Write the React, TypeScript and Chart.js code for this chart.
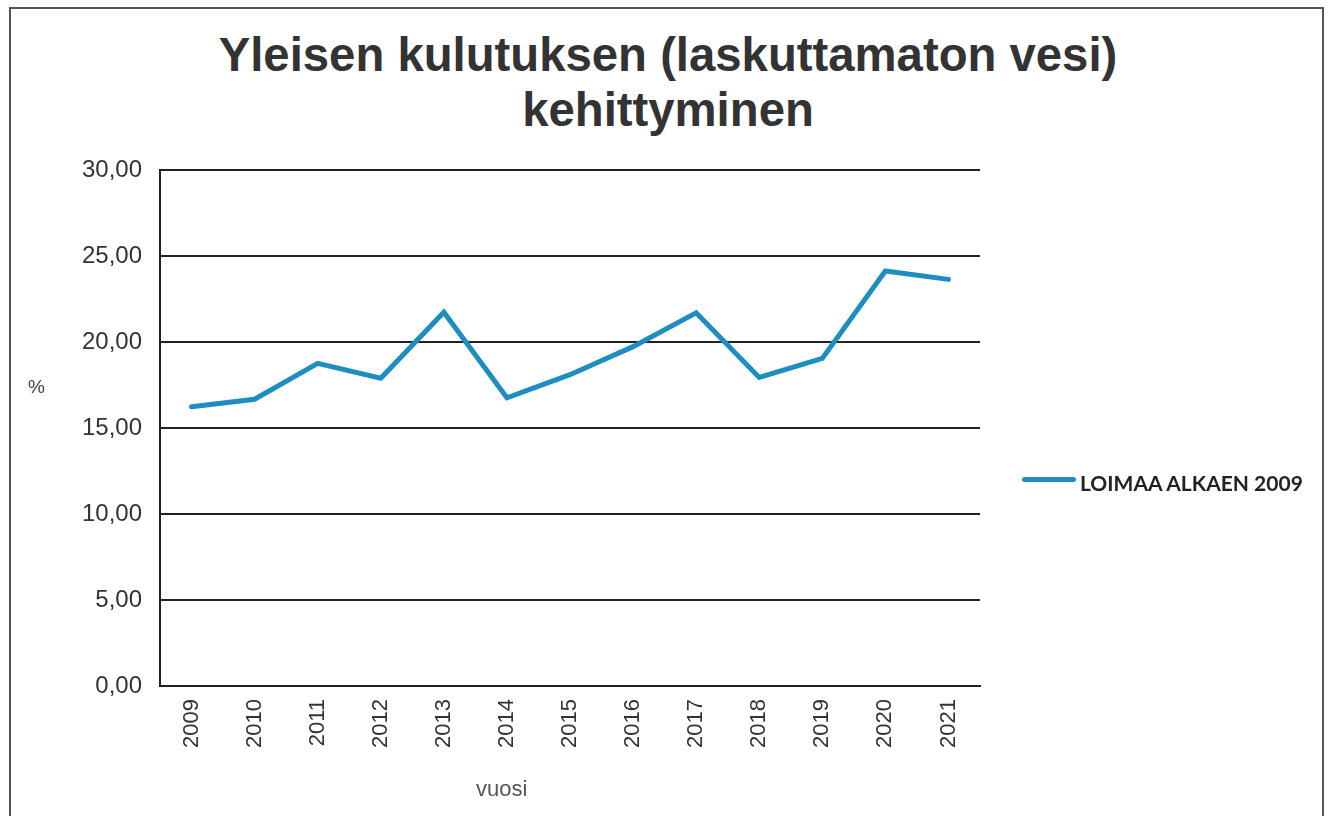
import React, { useEffect, useRef } from "react";
import { Chart, registerables } from "chart.js";

Chart.register(...registerables);

const titleLines = ["Yleisen kulutuksen (laskuttamaton vesi)", "kehittyminen"];
const years = ["2009", "2010", "2011", "2012", "2013", "2014", "2015", "2016", "2017", "2018", "2019", "2020", "2021"];
const seriesName = "LOIMAA ALKAEN 2009";
const values = [16.24, 16.67, 18.76, 17.89, 21.73, 16.76, 18.1, 19.73, 21.7, 17.94, 19.05, 24.13, 23.64];
const yTicks = [0, 5, 10, 15, 20, 25, 30];
const yAxisLabel = "%";
const xAxisLabel = "vuosi";

const LINE_COLOR = "#1e8dc0";

export default function App() {
  const canvasRef = useRef<HTMLCanvasElement | null>(null);

  useEffect(() => {
    document.body.style.margin = "0";
    const canvas = canvasRef.current;
    if (!canvas) return;
    const chart = new Chart(canvas, {
      type: "line",
      data: {
        labels: years,
        datasets: [
          {
            label: seriesName,
            data: values,
            borderColor: LINE_COLOR,
            backgroundColor: LINE_COLOR,
            borderWidth: 5,
            pointRadius: 0,
            tension: 0,
            borderCapStyle: "round",
            borderJoinStyle: "miter",
          },
        ],
      },
      options: {
        animation: false,
        responsive: false,
        maintainAspectRatio: false,
        layout: { padding: { top: 170, right: 353, left: 0, bottom: 0 } },
        plugins: {
          legend: { display: false },
          title: { display: false },
          tooltip: { enabled: false },
        },
        scales: {
          x: {
            type: "category",
            offset: true,
            grid: { display: false, drawTicks: false },
            border: { display: true, color: "#222", width: 2 },
            ticks: {
              minRotation: 90,
              maxRotation: 90,
              padding: 13,
              color: "#333",
              font: { family: "Liberation Sans, Arial, sans-serif", size: 22 },
            },
            afterFit: (scale: any) => {
              scale.height = 130;
            },
          },
          y: {
            min: 0,
            max: 30,
            afterBuildTicks: (scale: any) => {
              scale.ticks = yTicks.map((v) => ({ value: v }));
            },
            grid: { color: "#222", lineWidth: 2, drawTicks: false },
            border: { display: true, color: "#222", width: 2 },
            ticks: {
              padding: 18,
              color: "#333",
              font: { family: "Liberation Sans, Arial, sans-serif", size: 24 },
              callback: (v: any) => Number(v).toFixed(2).replace(".", ","),
            },
            afterFit: (scale: any) => {
              scale.width = 160;
            },
          },
        },
      },
    });
    return () => chart.destroy();
  }, []);

  const titleStyle: React.CSSProperties = {
    position: "absolute",
    left: 0,
    width: 1336,
    textAlign: "center",
    fontFamily: "'Liberation Sans', Arial, sans-serif",
    fontWeight: "bold",
    fontSize: 48,
    lineHeight: "48px",
    color: "#333",
    whiteSpace: "nowrap",
    transform: "scaleX(0.985)",
    transformOrigin: "668px 0",
  };

  return (
    <div style={{ position: "absolute", left: 0, top: 0, width: 1333, height: 816, overflow: "hidden", background: "#fff" }}>
      <div
        style={{
          position: "absolute",
          left: 9,
          top: 7,
          width: 1315,
          height: 860,
          border: "2px solid #555",
          boxSizing: "border-box",
        }}
      />
      <div style={{ ...titleStyle, top: 31 }}>{titleLines[0]}</div>
      <div style={{ ...titleStyle, top: 86 }}>{titleLines[1]}</div>
      <canvas ref={canvasRef} width={1333} height={816} style={{ position: "absolute", left: 0, top: 0 }} />
      <div
        style={{
          position: "absolute",
          left: 28,
          top: 376,
          fontFamily: "'Liberation Sans', Arial, sans-serif",
          fontSize: 19,
          color: "#444",
        }}
      >
        {yAxisLabel}
      </div>
      <div
        style={{
          position: "absolute",
          left: 476,
          top: 778,
          fontFamily: "'Liberation Sans', Arial, sans-serif",
          fontSize: 22,
          lineHeight: "22px",
          color: "#555",
        }}
      >
        {xAxisLabel}
      </div>
      <div style={{ position: "absolute", left: 1022, top: 474, height: 20 }}>
        <div
          style={{
            position: "absolute",
            left: 0,
            top: 3,
            width: 54,
            height: 5,
            borderRadius: 3,
            background: LINE_COLOR,
          }}
        />
        <div
          style={{
            position: "absolute",
            left: 58,
            top: -2,
            whiteSpace: "nowrap",
            fontFamily: "Lato, 'Open Sans', sans-serif",
            fontWeight: "bold",
            fontSize: 21,
            color: "#222",
            lineHeight: "21px",
          }}
        >
          {seriesName}
        </div>
      </div>
    </div>
  );
}
